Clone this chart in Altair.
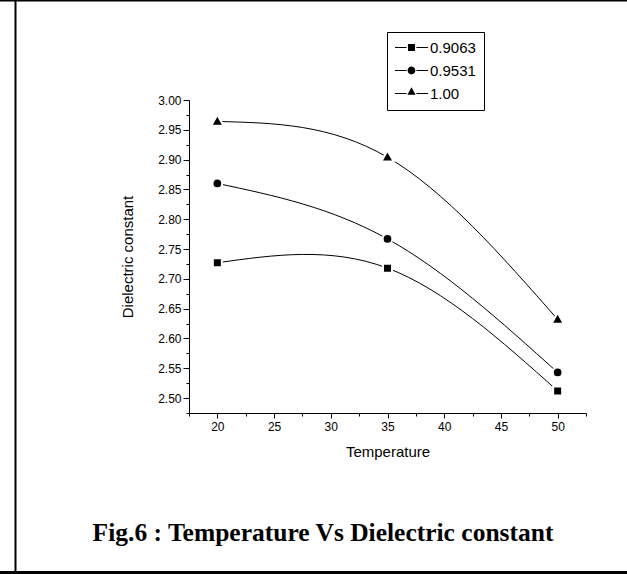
import altair as alt
import pandas as pd

# Dielectric constant vs temperature for three concentrations
SERIES = ["0.9063", "0.9531", "1.00"]
TEMPERATURE = [20, 35, 50]
EPS_09063 = [2.727, 2.718, 2.512]
EPS_09531 = [2.860, 2.767, 2.543]
EPS_100 = [2.964, 2.904, 2.632]

X_TICKS = [17.5, 20, 22.5, 25, 27.5, 30, 32.5, 35, 37.5, 40, 42.5, 45, 47.5, 50, 52.5]
Y_TICKS = [2.475, 2.500, 2.525, 2.550, 2.575, 2.600, 2.625, 2.650, 2.675, 2.700,
           2.725, 2.750, 2.775, 2.800, 2.825, 2.850, 2.875, 2.900, 2.925, 2.950,
           2.975, 3.000]
X_DOMAIN = [17.5, 52.5]
Y_DOMAIN = [2.475, 3.0]

X_TITLE = "Temperature"
Y_TITLE = "Dielectric constant"
CAPTION = "Fig.6 : Temperature Vs Dielectric constant"

SANS = "Liberation Sans"
SERIF = "Liberation Serif"

df = pd.DataFrame({
    "series": [s for s in SERIES for _ in TEMPERATURE],
    "temperature": TEMPERATURE * len(SERIES),
    "eps": EPS_09063 + EPS_09531 + EPS_100,
})

# Marker shapes on the plot (drawn with a white halo so the curves stop short of them)
MARKERS = [
    "M-0.9,-0.9H0.9V0.9H-0.9Z",
    "M-0.97,0A0.97,0.97,0,1,0,0.97,0A0.97,0.97,0,1,0,-0.97,0Z",
    "M0,-1.34L1.24,0.86L-1.24,0.86Z",
]
# Legend keys: line - marker - line
LEGEND_KEYS = [
    "M-1,-0.03H-0.3V0.03H-1Z M0.3,-0.03H1V0.03H0.3Z M-0.21,-0.21H0.21V0.21H-0.21Z",
    "M-1,-0.03H-0.3V0.03H-1Z M0.3,-0.03H1V0.03H0.3Z "
    "M-0.236,0A0.236,0.236,0,1,0,0.236,0A0.236,0.236,0,1,0,-0.236,0Z",
    "M-1,-0.03H-0.3V0.03H-1Z M0.3,-0.03H1V0.03H0.3Z M0,-0.38L0.25,0.08L-0.25,0.08Z",
]

MINOR_X = "datum.value % 5 != 0"
MINOR_Y = "abs(datum.value * 20 - round(datum.value * 20)) > 0.01"

common_axis = dict(
    domainColor="black", domainWidth=1, tickColor="black", tickWidth=1,
    labelFont=SANS, labelFontSize=12, labelColor="black",
    titleFont=SANS, titleFontSize=15, titleFontWeight="normal", titleColor="black",
    grid=False, labelFlush=False, labelOverlap=False,
)

x_axis = alt.Axis(
    values=X_TICKS,
    labelExpr=f"{MINOR_X} ? '' : format(datum.value, 'd')",
    tickSize=5,
    tickDash={"condition": {"test": MINOR_X, "value": [3, 20]}, "value": []},
    labelPadding=3, titlePadding=12,
    **common_axis,
)
y_axis = alt.Axis(
    values=Y_TICKS,
    labelExpr=f"{MINOR_Y} ? '' : format(datum.value, '.2f')",
    tickSize=6,
    tickDash={"condition": {"test": MINOR_Y, "value": [3, 20]}, "value": []},
    labelPadding=2, titlePadding=22,
    **common_axis,
)

x_enc = alt.X("temperature:Q", scale=alt.Scale(domain=X_DOMAIN, nice=False, zero=False),
              axis=x_axis, title=X_TITLE)
y_enc = alt.Y("eps:Q", scale=alt.Scale(domain=Y_DOMAIN, nice=False, zero=False),
              axis=y_axis, title=Y_TITLE)

base = alt.Chart(df)

curves = base.mark_line(interpolate="natural", color="black", strokeWidth=1).encode(
    x=x_enc, y=y_enc, detail="series:N"
)

points = base.mark_point(
    filled=True, color="black", stroke="white", strokeWidth=2, size=100, opacity=1
).encode(
    x=x_enc, y=y_enc,
    shape=alt.Shape("series:N", scale=alt.Scale(domain=SERIES, range=MARKERS), legend=None),
)

legend_layer = base.transform_filter("false").mark_point(
    filled=True, color="black", opacity=1
).encode(
    shape=alt.Shape(
        "series:N",
        scale=alt.Scale(domain=SERIES, range=LEGEND_KEYS),
        legend=alt.Legend(
            title=None, orient="none", legendX=198, legendY=-68,
            strokeColor="black", fillColor="white", padding=8, cornerRadius=0,
            labelFont=SANS, labelFontSize=15, labelColor="black", labelOffset=2,
            symbolSize=1089, symbolFillColor="black", symbolStrokeWidth=0,
            symbolOpacity=1, symbolOffset=0, rowPadding=7, clipHeight=15,
        ),
    )
)

one = alt.Chart(pd.DataFrame({"caption": [CAPTION]}))

# Page frame: rules along the top, left and bottom of the figure cell
frame_top = one.mark_rule(color="black", strokeWidth=3).encode(
    x=alt.value(-189), x2=alt.value(438), y=alt.value(-100)
)
frame_left = one.mark_rule(color="black", strokeWidth=2).encode(
    x=alt.value(-173.5), y=alt.value(-100), y2=alt.value(474)
)
frame_bottom = one.mark_rule(color="black", strokeWidth=3).encode(
    x=alt.value(-189), x2=alt.value(438), y=alt.value(472.5)
)

caption = one.mark_text(
    font=SERIF, fontSize=25.5, fontWeight="bold", color="black",
    align="center", baseline="alphabetic",
).encode(text="caption:N", x=alt.value(134), y=alt.value(441))

chart = alt.layer(
    frame_top, frame_left, frame_bottom, curves, points, legend_layer, caption
).resolve_scale(shape="independent").properties(
    width=397, height=313,
    autosize=alt.AutoSizeParams(type="none"),
    padding={"left": 189, "top": 100, "right": 41, "bottom": 161},
    background="white",
).configure_view(stroke=None)

chart.save("out.html", embed_options={"renderer": "svg", "actions": False})
